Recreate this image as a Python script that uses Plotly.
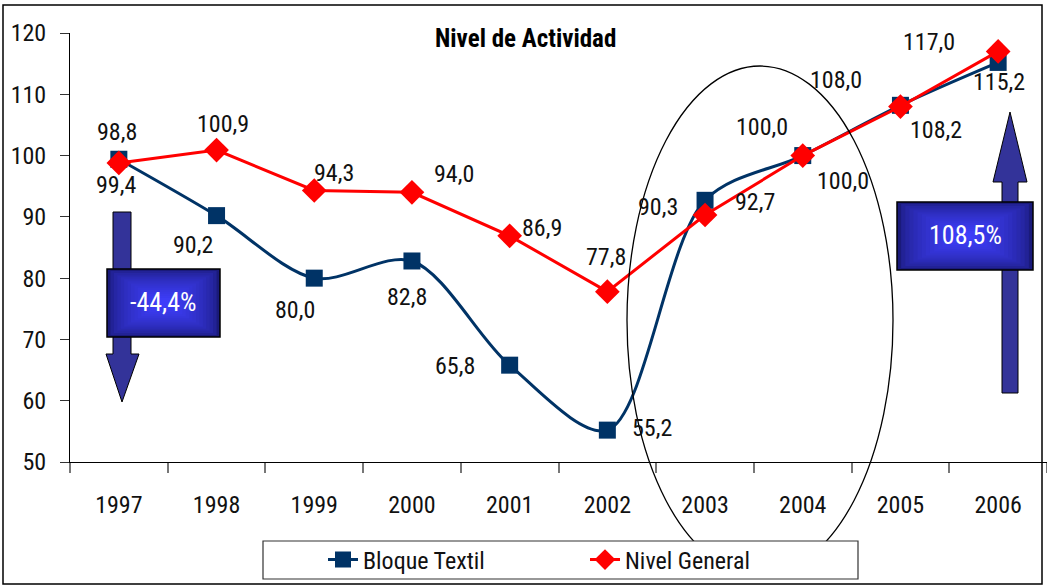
import plotly.graph_objects as go

# ---------------- data ----------------
years = ["1997", "1998", "1999", "2000", "2001", "2002", "2003", "2004", "2005", "2006"]
bloque_textil = [99.4, 90.2, 80.0, 82.8, 65.8, 55.2, 92.7, 100.0, 108.2, 115.2]
nivel_general = [98.8, 100.9, 94.3, 94.0, 86.9, 77.8, 90.3, 100.0, 108.0, 117.0]
y_ticks = [50, 60, 70, 80, 90, 100, 110, 120]
title_text = "Nivel de Actividad"
box_texts = ["-44,4%", "108,5%"]

# label offsets (pixels: dx, dy with dy positive = down)
bt_off = [(-3, 26), (-24, 29), (-19, 32), (-5, 36), (-55, 1), (45, -2), (50, 2), (40, 25), (36, 25), (1, 20)]
ng_off = [(-2, -31), (6, -26), (20, -18), (42, -18), (32, -8), (-1, -35), (-47, -8), (-41, -29), (-64, -27), (-69, -9)]

FONT = "Liberation Sans Narrow, Arial Narrow, Roboto Condensed, sans-serif"
FS = 24
W, H = 1047, 586
ML, MR, MT, MB = 70, 0, 33, 124
PW = W - ML - MR
PH = H - MT - MB


def px(x):
    return (x - ML) / PW


def py(y):
    return (MT + PH - y) / PH


def fmt(v):
    return f"{v:.1f}".replace(".", ",")


fig = go.Figure()
fig.add_trace(go.Scatter(
    x=years, y=bloque_textil, name="Bloque Textil", mode="lines+markers",
    line=dict(color="#003366", width=3, shape="spline", smoothing=0.9),
    marker=dict(symbol="square", size=17, color="#003366"),
))
fig.add_trace(go.Scatter(
    x=years, y=nivel_general, name="Nivel General", mode="lines+markers",
    line=dict(color="#FF0000", width=3),
    marker=dict(symbol="diamond", size=19, color="#FF0000"),
))

annotations = []
for ys, offs in ((bloque_textil, bt_off), (nivel_general, ng_off)):
    for i, (yv, (dx, dy)) in enumerate(zip(ys, offs)):
        annotations.append(dict(
            x=i, y=yv, xref="x", yref="y", text=fmt(yv), showarrow=False,
            xshift=dx, yshift=-dy, xanchor="center", yanchor="middle",
            font=dict(family=FONT, size=FS, color="#111111"),
        ))

# title
annotations.append(dict(
    x=px(525), y=py(39), xref="paper", yref="paper", text="<b>" + title_text + "</b>",
    showarrow=False, xanchor="center", yanchor="middle",
    font=dict(family=FONT, size=25, color="#000000"),
))

shapes = []
# outer border
shapes.append(dict(type="rect", xref="paper", yref="paper",
                   x0=px(3), x1=px(1042), y0=py(584), y1=py(5),
                   line=dict(color="#000000", width=1.5), layer="below"))
# ellipse
shapes.append(dict(type="circle", xref="paper", yref="paper",
                   x0=px(627), x1=px(893), y0=py(575), y1=py(66),
                   line=dict(color="#000000", width=1.3)))
# legend border (white box covering the ellipse)
shapes.append(dict(type="rect", xref="paper", yref="paper",
                   x0=px(263), x1=px(858), y0=py(579), y1=py(541),
                   fillcolor="#FFFFFF", line=dict(color="#333333", width=1.2)))


def poly(points):
    return "M " + " L ".join(f"{px(a)},{py(b)}" for a, b in points) + " Z"


ARROW = "#333399"
# down arrow (left)
shapes.append(dict(type="path", xref="paper", yref="paper",
                   path=poly([(113, 212), (131, 212), (131, 354), (139, 354), (122, 402),
                              (106, 354), (113, 354)]),
                   fillcolor=ARROW, line=dict(color="#000000", width=1)))
# up arrow (right)
shapes.append(dict(type="path", xref="paper", yref="paper",
                   path=poly([(1002, 393), (1018, 393), (1018, 182), (1027, 182), (1010, 112),
                              (993, 182), (1002, 182)]),
                   fillcolor=ARROW, line=dict(color="#000000", width=1)))


def grad_box(x0, y0, x1, y1, text):
    n = 16
    c0 = (0x1A, 0x1A, 0x7A)
    c1 = (0x40, 0x40, 0xFF)
    cx, cy = (x0 + x1) / 2, (y0 + y1) / 2
    hw, hh = (x1 - x0) / 2, (y1 - y0) / 2
    shapes.append(dict(type="rect", xref="paper", yref="paper",
                       x0=px(x0), x1=px(x1), y0=py(y1), y1=py(y0),
                       fillcolor="rgb(%d,%d,%d)" % c0, line=dict(color="#000000", width=1.5)))
    for k in range(1, n):
        f = k / n
        g = f ** 0.55
        col = tuple(int(c0[i] + (c1[i] - c0[i]) * g) for i in range(3))
        sx = hw * (1 - f * 0.97)
        sy = hh * (1 - f * 0.97)
        shapes.append(dict(type="rect", xref="paper", yref="paper",
                           x0=px(cx - sx), x1=px(cx + sx), y0=py(cy + sy), y1=py(cy - sy),
                           fillcolor="rgb(%d,%d,%d)" % col, line=dict(width=0)))
    annotations.append(dict(
        x=px(cx), y=py(cy - 1), xref="paper", yref="paper", text=text, showarrow=False,
        xanchor="center", yanchor="middle",
        font=dict(family=FONT, size=26, color="#FFFFFF"),
    ))


grad_box(107, 269, 220, 337, box_texts[0])
grad_box(897, 202, 1033, 270, box_texts[1])

fig.update_layout(
    width=W, height=H,
    margin=dict(l=ML, r=MR, t=MT, b=MB),
    paper_bgcolor="#FFFFFF", plot_bgcolor="#FFFFFF",
    font=dict(family=FONT, size=FS, color="#111111"),
    showlegend=True,
    legend=dict(orientation="h", x=px(323), xanchor="left", y=py(560), yanchor="middle",
                font=dict(family=FONT, size=FS, color="#111111"),
                entrywidth=217, entrywidthmode="pixels",
                bgcolor="rgba(0,0,0,0)", borderwidth=0),
    shapes=shapes,
    annotations=annotations,
)
fig.update_xaxes(
    type="category", categoryorder="array", categoryarray=years,
    range=[-0.5, 9.5], showline=True, linecolor="#000000", linewidth=1,
    ticks="outside", tickson="boundaries", ticklen=10, tickwidth=1.5, tickcolor="#777777",
    showgrid=False, zeroline=False, ticklabelstandoff=21,
    tickfont=dict(family=FONT, size=FS, color="#111111"),
)
fig.update_yaxes(
    range=[50, 120], tickvals=y_ticks, showline=True, linecolor="#000000", linewidth=1,
    ticks="outside", ticklen=9, tickwidth=1, tickcolor="#333333",
    showgrid=False, zeroline=False, ticklabelstandoff=9,
    tickfont=dict(family=FONT, size=FS, color="#111111"),
)

fig.write_html("out.html", config={"displayModeBar": False},
               post_script="document.body.style.margin='0px';document.body.style.overflow='hidden';")
